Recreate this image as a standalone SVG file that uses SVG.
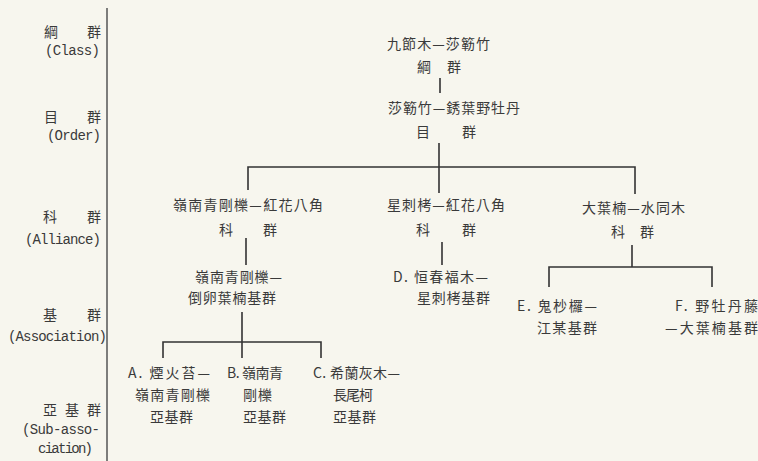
<svg xmlns="http://www.w3.org/2000/svg" width="758" height="461" viewBox="0 0 758 461">
<style>
.bg{fill:#f7f6ee}
.t{font-family:"Noto Sans CJK TC","Noto Sans CJK SC",sans-serif;font-size:14px;fill:#3a3a3a}
.e{font-family:"Liberation Mono","DejaVu Sans Mono",monospace;font-size:14px;fill:#3a3a3a}
.l{stroke:#333;stroke-width:1.6;fill:none}
.ax{stroke:#555;stroke-width:1.5;fill:none}
</style>
<rect class="bg" x="0" y="0" width="758" height="461"/>
<g id="axis">
<line class="ax" x1="107" y1="8" x2="107" y2="461"/>
<text class="t" x="44" y="37" textLength="57" lengthAdjust="spacing">綱　　群</text>
<text class="e" x="45" y="55" textLength="55" lengthAdjust="spacing">(Class)</text>
<text class="t" x="44" y="122" textLength="57" lengthAdjust="spacing">目　　群</text>
<text class="e" x="47" y="140" textLength="54" lengthAdjust="spacing">(Order)</text>
<text class="t" x="43" y="222" textLength="58" lengthAdjust="spacing">科　　群</text>
<text class="e" x="25" y="244" textLength="76" lengthAdjust="spacing">(Alliance)</text>
<text class="t" x="43" y="320" textLength="58" lengthAdjust="spacing">基　　群</text>
<text class="e" x="8" y="341" textLength="99" lengthAdjust="spacing">(Association)</text>
<text class="t" x="43" y="415" textLength="58" lengthAdjust="spacing">亞 基 群</text>
<text class="e" x="22" y="434" textLength="78" lengthAdjust="spacing">(Sub-asso-</text>
<text class="e" x="38" y="453" textLength="55" lengthAdjust="spacing">ciation)</text>
</g>
<g id="connectors">
<line class="l" x1="440" y1="78" x2="440" y2="93"/>
<line class="l" x1="439" y1="143" x2="439" y2="193"/>
<polyline class="l" points="248,190 248,167 635,167 635,194"/>
<line class="l" x1="246" y1="238" x2="246" y2="265"/>
<line class="l" x1="442" y1="242" x2="442" y2="265"/>
<line class="l" x1="632" y1="245" x2="632" y2="267"/>
<polyline class="l" points="549,287 549,267 712,267 712,287"/>
<line class="l" x1="242" y1="312" x2="242" y2="358"/>
<polyline class="l" points="163,358 163,342 321,342 321,358"/>
</g>
<g id="class-node">
<text class="t" x="387" y="49" textLength="103" lengthAdjust="spacing">九節木—莎簕竹</text>
<text class="t" x="417" y="72" textLength="44" lengthAdjust="spacing">綱　群</text>
</g>
<g id="order-node">
<text class="t" x="388" y="113" textLength="132" lengthAdjust="spacing">莎簕竹—銹葉野牡丹</text>
<text class="t" x="416" y="137" textLength="60" lengthAdjust="spacing">目　　群</text>
</g>
<g id="alliance-1">
<text class="t" x="173" y="210" textLength="150" lengthAdjust="spacing">嶺南青剛櫟—紅花八角</text>
<text class="t" x="219" y="235" textLength="58" lengthAdjust="spacing">科　　群</text>
</g>
<g id="alliance-2">
<text class="t" x="387" y="210" textLength="118" lengthAdjust="spacing">星刺栲—紅花八角</text>
<text class="t" x="416" y="235" textLength="60" lengthAdjust="spacing">科　　群</text>
</g>
<g id="alliance-3">
<text class="t" x="582" y="213" textLength="103" lengthAdjust="spacing">大葉楠—水同木</text>
<text class="t" x="611" y="237" textLength="43" lengthAdjust="spacing">科　群</text>
</g>
<g id="association-1">
<text class="t" x="195" y="282" textLength="87" lengthAdjust="spacing">嶺南青剛櫟—</text>
<text class="t" x="188" y="303" textLength="88" lengthAdjust="spacing">倒卵葉楠基群</text>
</g>
<g id="association-D">
<text class="t" x="393" y="282" textLength="95" lengthAdjust="spacing">D. 恒春福木—</text>
<text class="t" x="417" y="303" textLength="73" lengthAdjust="spacing">星刺栲基群</text>
</g>
<g id="association-E">
<text class="t" x="517" y="311" textLength="80" lengthAdjust="spacing">E. 鬼杪欏—</text>
<text class="t" x="537" y="333" textLength="60" lengthAdjust="spacing">江某基群</text>
</g>
<g id="association-F">
<text class="t" x="675" y="311" textLength="83" lengthAdjust="spacing">F. 野牡丹藤</text>
<text class="t" x="665" y="333" textLength="93" lengthAdjust="spacing">—大葉楠基群</text>
</g>
<g id="subassociation-A">
<text class="t" x="128" y="378" textLength="82" lengthAdjust="spacing">A. 煙火苔—</text>
<text class="t" x="135" y="400" textLength="75" lengthAdjust="spacing">嶺南青剛櫟</text>
<text class="t" x="150" y="422" textLength="43" lengthAdjust="spacing">亞基群</text>
</g>
<g id="subassociation-B">
<text class="t" x="227" y="378" textLength="56" lengthAdjust="spacing">B. 嶺南青</text>
<text class="t" x="243" y="400" textLength="29" lengthAdjust="spacing">剛櫟</text>
<text class="t" x="243" y="422" textLength="43" lengthAdjust="spacing">亞基群</text>
</g>
<g id="subassociation-C">
<text class="t" x="313" y="378" textLength="87" lengthAdjust="spacing">C. 希蘭灰木—</text>
<text class="t" x="333" y="400" textLength="40" lengthAdjust="spacing">長尾柯</text>
<text class="t" x="333" y="422" textLength="43" lengthAdjust="spacing">亞基群</text>
</g>
</svg>
